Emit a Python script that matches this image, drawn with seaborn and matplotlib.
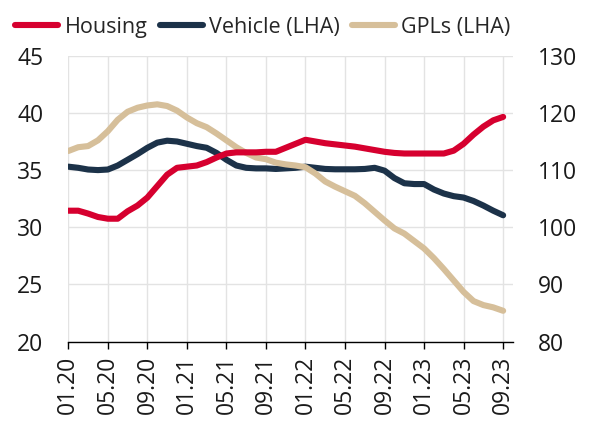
import matplotlib
matplotlib.use("Agg")
import matplotlib.pyplot as plt
import seaborn as sns
import pandas as pd
import numpy as np

# ---- data (monthly, 01.20 .. 09.23) ----
months = [f"{m:02d}.{y}" for y in (20, 21, 22, 23) for m in range(1, 13)][:45]

housing = [102.9, 102.9, 102.4, 101.8, 101.5, 101.5, 102.8, 103.8, 105.2, 107.2,
           109.2, 110.4, 110.6, 110.8, 111.4, 112.2, 112.9, 113.1, 113.1, 113.1,
           113.2, 113.2, 113.9, 114.6, 115.3, 115.0, 114.7, 114.5, 114.3, 114.1,
           113.8, 113.5, 113.2, 113.0, 112.9, 112.9, 112.9, 112.9, 112.9, 113.4,
           114.6, 116.2, 117.6, 118.7, 119.3]

vehicle = [35.3, 35.2, 35.05, 35.0, 35.05, 35.4, 35.9, 36.4, 36.95, 37.4,
           37.57, 37.5, 37.3, 37.1, 36.95, 36.5, 35.9, 35.4, 35.2, 35.15,
           35.15, 35.1, 35.15, 35.2, 35.3, 35.2, 35.1, 35.07, 35.07, 35.07,
           35.1, 35.2, 34.95, 34.3, 33.85, 33.78, 33.78, 33.3, 32.95, 32.72,
           32.6, 32.3, 31.9, 31.45, 31.05]

gpls = [36.67, 37.0, 37.1, 37.6, 38.4, 39.4, 40.1, 40.45, 40.65, 40.75,
        40.6, 40.2, 39.6, 39.1, 38.75, 38.2, 37.6, 37.0, 36.5, 36.1,
        35.95, 35.65, 35.5, 35.4, 35.25, 34.7, 34.0, 33.55, 33.15, 32.75,
        32.1, 31.35, 30.6, 29.9, 29.45, 28.8, 28.15, 27.3, 26.35, 25.35,
        24.35, 23.55, 23.2, 23.0, 22.7]

left_ticks = [20, 25, 30, 35, 40, 45]
right_ticks = [80, 90, 100, 110, 120, 130]
xtick_labels = ["01.20", "05.20", "09.20", "01.21", "05.21", "09.21",
                "01.22", "05.22", "09.22", "01.23", "05.23", "09.23"]

df = pd.DataFrame({"idx": np.arange(len(months)), "month": months,
                   "Housing": housing, "Vehicle (LHA)": vehicle, "GPLs (LHA)": gpls})

# ---- style ----
sns.set_theme(style="white")
plt.rcParams["font.family"] = ["Open Sans", "DejaVu Sans"]

RED = "#D6002F"
NAVY = "#1C3249"
TAN = "#D6BF9A"
GRID = "#E3E3E3"
LW = 4.4

fig = plt.figure(figsize=(5.92, 4.21), dpi=100)
ax = fig.add_axes([0.1154, 0.1884, 0.8666 - 0.1154, 0.8677 - 0.1884])
ax2 = ax.twinx()

sns.lineplot(data=df, x="idx", y="Vehicle (LHA)", ax=ax, color=NAVY, lw=LW,
             solid_capstyle="round", label="Vehicle (LHA)", legend=False)
sns.lineplot(data=df, x="idx", y="GPLs (LHA)", ax=ax, color=TAN, lw=LW,
             solid_capstyle="round", label="GPLs (LHA)", legend=False)
sns.lineplot(data=df, x="idx", y="Housing", ax=ax2, color=RED, lw=LW,
             solid_capstyle="round", label="Housing", legend=False)

ax.set_xlim(0, 45)
ax.set_ylim(20, 45)
ax2.set_ylim(80, 130)
ax.set_yticks(left_ticks)
ax2.set_yticks(right_ticks)
tick_pos = [months.index(t) for t in xtick_labels]
ax.set_xticks(tick_pos)
ax.set_xticklabels(xtick_labels, rotation=90)

ax.grid(True, color=GRID, lw=1.0)
ax2.grid(False)
ax.set_axisbelow(True)
for a in (ax, ax2):
    for s in ("top", "left", "right", "bottom"):
        a.spines[s].set_visible(False)
ax.spines["bottom"].set_visible(True)
ax.spines["bottom"].set_color("black")
ax.spines["bottom"].set_linewidth(1.0)

ax.set_xlabel("")
ax.set_ylabel("")
ax2.set_ylabel("")
ax.tick_params(axis="x", bottom=True, length=5, width=1, color="black",
               labelsize=16.5, pad=5, labelcolor="#1a1a1a")
ax.tick_params(axis="y", left=False, length=0, labelsize=16.5, pad=18,
               labelcolor="#1a1a1a")
ax2.tick_params(axis="y", right=False, length=0, labelsize=16.5, pad=18,
                labelcolor="#1a1a1a")

# legend
h1, l1 = ax.get_legend_handles_labels()
h2, l2 = ax2.get_legend_handles_labels()
handles = h2 + h1
labels = l2 + l1
leg = fig.legend(handles, labels, loc="center left", bbox_to_anchor=(0.026, 0.935),
                 ncol=3, frameon=False, fontsize=15.5, handlelength=2.0,
                 handletextpad=0.3, columnspacing=0.55, borderaxespad=0,
                 borderpad=0)
for line in leg.get_lines():
    line.set_linewidth(LW)
    line.set_solid_capstyle("round")

fig.savefig("out.png", dpi=100)
